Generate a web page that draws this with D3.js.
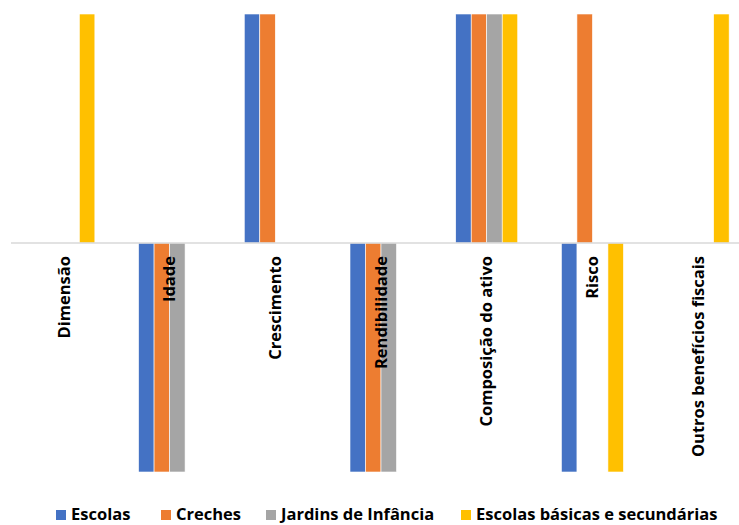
<!DOCTYPE html>
<html>
<head>
<meta charset="utf-8">
<script src="https://cdn.jsdelivr.net/npm/d3@7"></script>
<style>
  html, body { margin: 0; padding: 0; background: #fff; }
  svg { display: block; font-family: "Open Sans", Lato, sans-serif; }
  .cat-label { font-weight: bold; font-size: 16.5px; fill: #000; }
  .legend text { font-weight: bold; font-size: 16.5px; fill: #000; }
</style>
</head>
<body>
<div id="chart"></div>
<script>
const WIDTH = 739, HEIGHT = 525;

const categories = ["Dimensão", "Idade", "Crescimento", "Rendibilidade",
  "Composição do ativo", "Risco", "Outros benefícios fiscais"];
const seriesNames = ["Escolas", "Creches", "Jardins de Infância", "Escolas básicas e secundárias"];
const colors = ["#4472C4", "#ED7D31", "#A5A5A5", "#FFC000"];

// one array per series, in category order
const escolas  = [0, -1, 1, -1, 1, -1, 0];
const creches  = [0, -1, 1, -1, 1,  1, 0];
const jardins  = [0, -1, 0, -1, 1,  0, 0];
const basicas  = [1,  0, 0,  0, 1, -1, 1];
const series = [escolas, creches, jardins, basicas];

const svg = d3.select("#chart").append("svg")
  .attr("width", WIDTH).attr("height", HEIGHT);

const x0 = d3.scaleBand().domain(categories).range([11, 751])
  .paddingInner(0.4135).paddingOuter(0.20675);
const x1 = d3.scaleBand().domain(d3.range(seriesNames.length)).range([0, x0.bandwidth()]);
const y = d3.scaleLinear().domain([-1, 1]).range([472, 14]);

// bars
const rows = categories.map((c, i) => ({ cat: c, vals: series.map(s => s[i]) }));
const groups = svg.append("g").selectAll("g").data(rows).join("g")
  .attr("transform", d => `translate(${x0(d.cat)},0)`);
groups.selectAll("rect")
  .data(d => d.vals.map((v, k) => ({ v, k })).filter(e => e.v !== 0))
  .join("rect")
  .attr("x", d => x1(d.k))
  .attr("width", x1.bandwidth())
  .attr("y", d => y(Math.max(0, d.v)))
  .attr("height", d => Math.abs(y(d.v) - y(0)))
  .attr("fill", d => colors[d.k])
  .attr("stroke", "#fff").attr("stroke-width", 0.6);

// zero axis line
svg.append("line")
  .attr("x1", 11).attr("x2", WIDTH)
  .attr("y1", y(0)).attr("y2", y(0))
  .attr("stroke", "#D9D9D9").attr("stroke-width", 1.3);

// category labels, rotated, drawn over the bars
svg.append("g").selectAll("text").data(categories).join("text")
  .attr("class", "cat-label")
  .attr("text-anchor", "end")
  .attr("dy", "0.35em")
  .attr("transform", d => `translate(${x0(d) + x0.bandwidth() / 2},${y(0) + 13}) rotate(-90)`)
  .text(d => d);

// legend
const legendX = [56, 161, 266, 461];
const legend = svg.append("g").attr("class", "legend")
  .selectAll("g").data(seriesNames).join("g")
  .attr("transform", (d, i) => `translate(${legendX[i]},514.5)`);
legend.append("rect").attr("x", 0).attr("y", -4.5).attr("width", 10).attr("height", 10)
  .attr("fill", (d, i) => colors[i]);
legend.append("text").attr("x", 15).attr("dy", "0.35em").text(d => d);
</script>
</body>
</html>
